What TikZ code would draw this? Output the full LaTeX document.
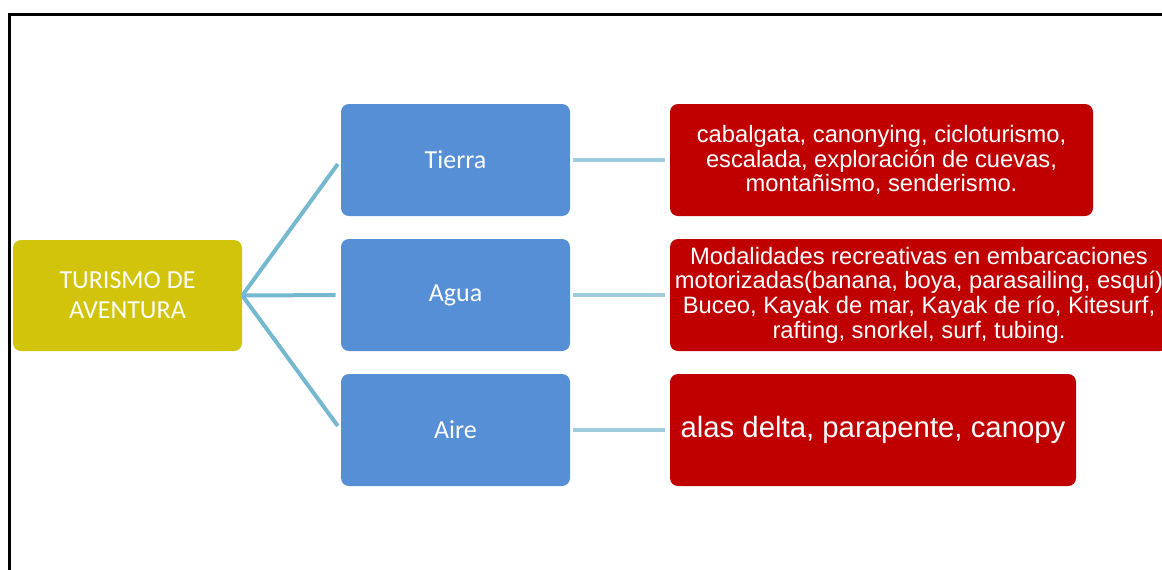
\documentclass[tikz,border=0pt]{standalone}
\usepackage{fontspec}
\setmainfont{Liberation Sans}
\newfontfamily\calibri{Carlito}
\usetikzlibrary{positioning}

\definecolor{raizcol}{HTML}{D2C40A}
\definecolor{ramacol}{HTML}{568FD5}
\definecolor{hojacol}{HTML}{C00000}
\definecolor{lineaizq}{HTML}{74B9D0}
\definecolor{lineader}{HTML}{A0CDDE}

\tikzset{
  raiz/.style={fill=raizcol, rounded corners=6pt, text=white, align=center,
    minimum width=171.75pt, minimum height=83.25pt, inner sep=0pt,
    font=\calibri\fontsize{19.5}{22.5}\selectfont},
  rama/.style={fill=ramacol, rounded corners=6pt, text=white, align=center,
    minimum width=171.75pt, minimum height=84pt, inner sep=0pt,
    font=\calibri\fontsize{19.5}{22.5}\selectfont},
  hoja/.style={fill=hojacol, rounded corners=6pt, text=white, align=center,
    minimum height=84pt, inner sep=0pt,
    font=\fontsize{17.8}{18.5}\selectfont},
  unionizq/.style={draw=lineaizq, line width=3pt, shorten >=3.75pt},
  unionder/.style={draw=lineader, line width=3pt, shorten <=2.25pt, shorten >=3.75pt}
}

\begin{document}
\begin{tikzpicture}[x=0.75pt,y=-0.75pt]
  \useasboundingbox (0,0) rectangle (1162,569);
  \clip (0,0) rectangle (1162,569);
  % marco
  \draw[line width=2.25pt] (9.5,14) rectangle (1180,590);

  % raiz
  \node[raiz] (turismo) at (127.5,295.5) {TURISMO DE\\AVENTURA};

  % ramas
  \node[rama] (tierra) at (455.5,160) {Tierra};
  \node[rama] (agua) at (455.5,295) {Agua};
  \node[rama] (aire) at (455.5,430) {Aire};

  % hojas
  \node[hoja, minimum width=317.25pt] (tierrahoja) at (881.5,160)
    {cabalgata, canonying, cicloturismo,\\escalada, exploración de cuevas,\\montañismo, senderismo.};
  \node[hoja, minimum width=373.5pt] (aguahoja) at (919,295)
    {Modalidades recreativas en embarcaciones\\motorizadas(banana, boya, parasailing, esquí)\\Buceo, Kayak de mar, Kayak de río, Kitesurf,\\rafting, snorkel, surf, tubing.};
  \node[hoja, minimum width=304.5pt, font=\fontsize{22}{24}\selectfont] (airehoja) at (873,430)
    {alas delta, parapente, canopy};

  % uniones
  \foreach \r in {tierra,agua,aire}{
    \draw[unionizq] (turismo.east) -- (\r.west);
    \draw[unionder] (\r.east) -- (\r hoja.west);
  }
\end{tikzpicture}
\end{document}
